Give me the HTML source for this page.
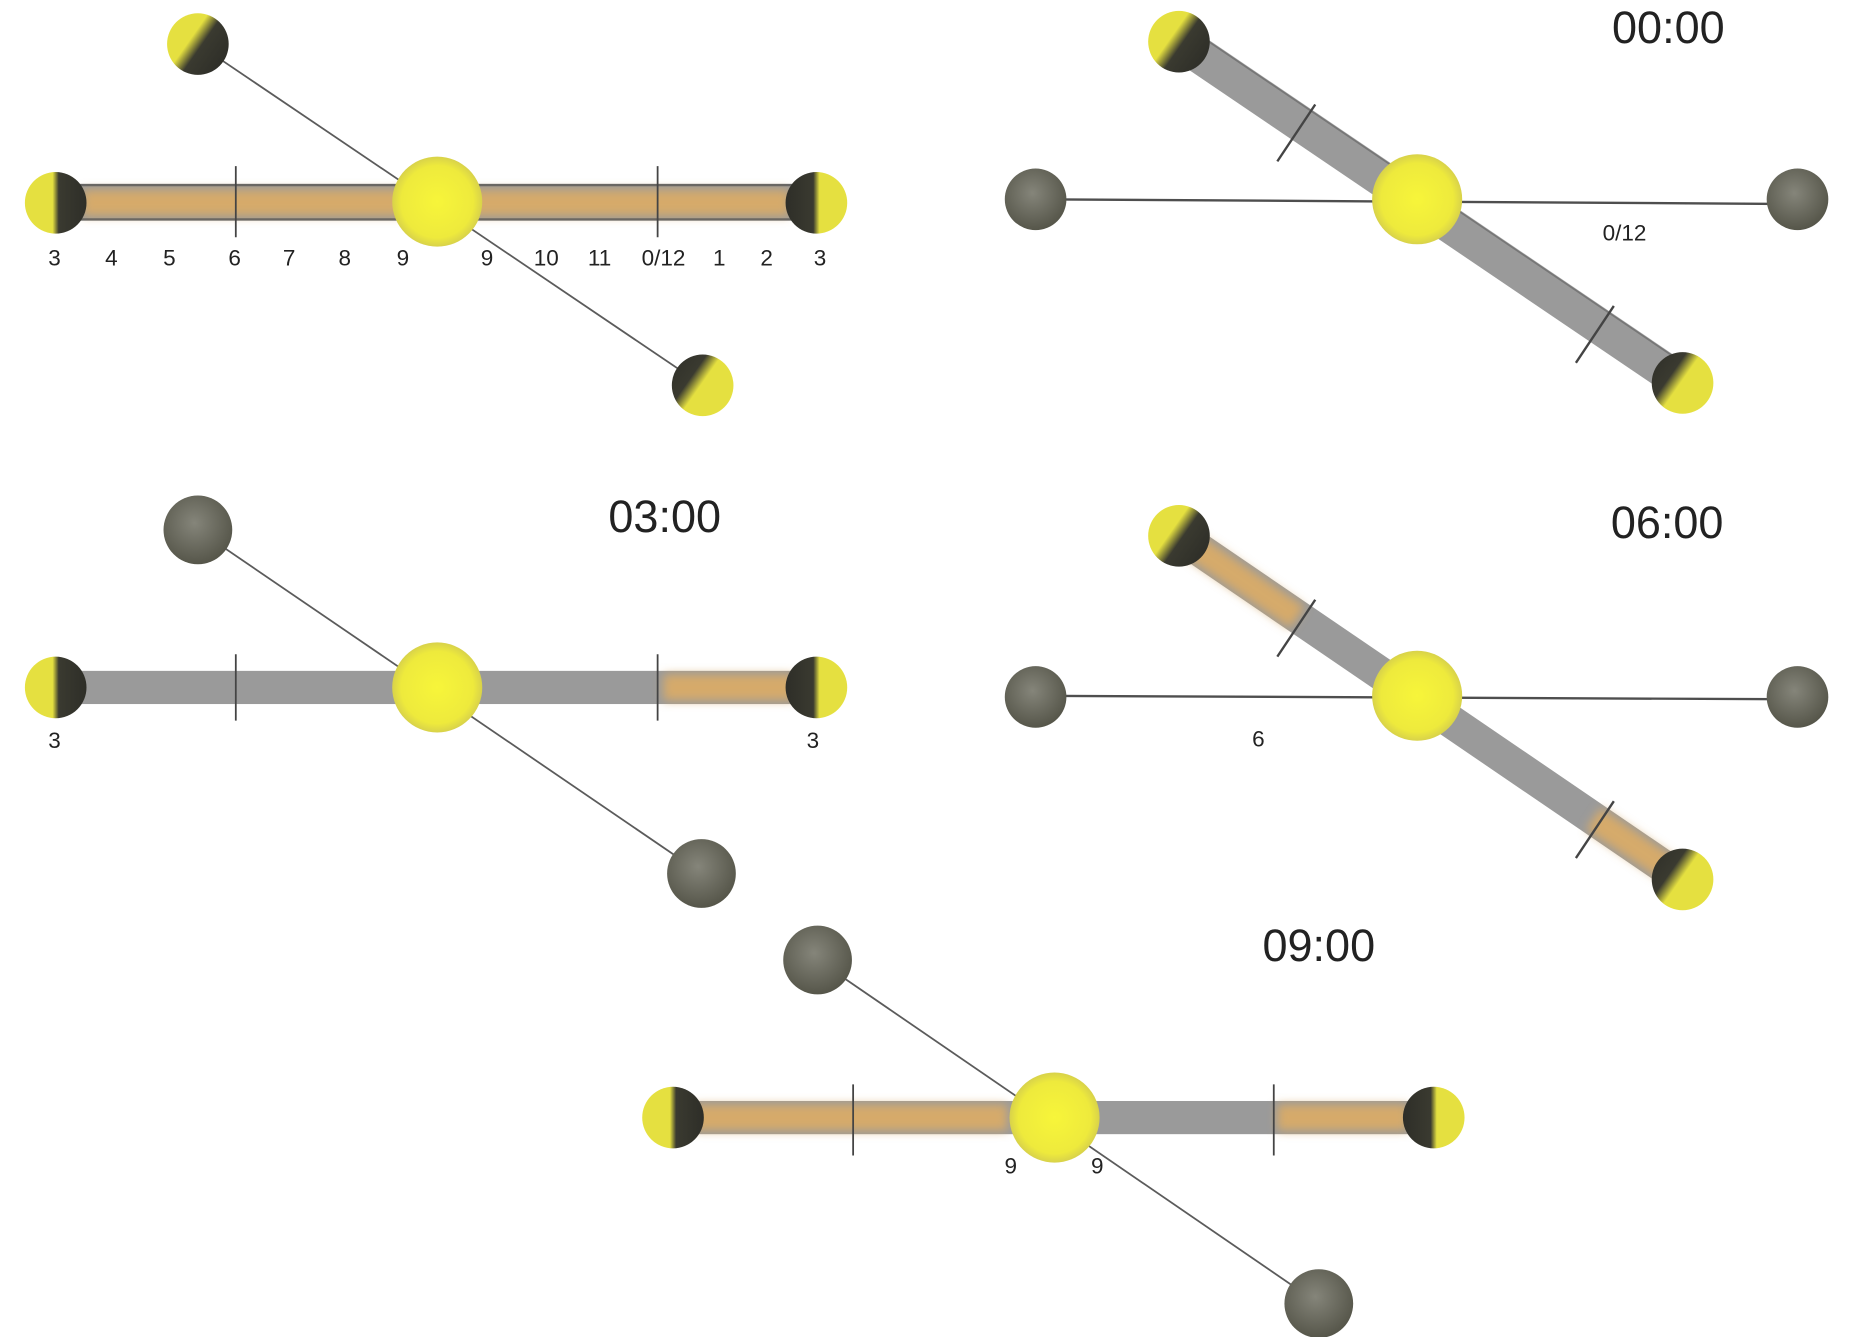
<!DOCTYPE html>
<html><head><meta charset="utf-8"><style>
html,body{margin:0;padding:0;background:#fff;}
svg{display:block}
text{font-family:"Liberation Sans",sans-serif;fill:#222;}
</style></head><body>
<svg width="1852" height="1337" viewBox="0 0 1563 1128" xmlns="http://www.w3.org/2000/svg">
<defs>
<radialGradient id="sun" cx="50%" cy="50%" r="50%"><stop offset="0" stop-color="#f7f53a"/><stop offset="0.8" stop-color="#eeea3c"/><stop offset="1" stop-color="#d8d24a"/></radialGradient>
<radialGradient id="grey" cx="45%" cy="40%" r="60%"><stop offset="0" stop-color="#85857a"/><stop offset="1" stop-color="#56564a"/></radialGradient>
<linearGradient id="pl" x1="0" y1="0" x2="1" y2="0"><stop offset="0.45" stop-color="#e5e040"/><stop offset="0.55" stop-color="#3a3a30"/><stop offset="1" stop-color="#2e2e28"/></linearGradient>
<linearGradient id="pr" x1="0" y1="0" x2="1" y2="0"><stop offset="0" stop-color="#2e2e28"/><stop offset="0.45" stop-color="#3a3a30"/><stop offset="0.55" stop-color="#e5e040"/></linearGradient>
<linearGradient id="mtl" x1="0" y1="0" x2="1" y2="0.7"><stop offset="0.45" stop-color="#e5e040"/><stop offset="0.62" stop-color="#3a3a30"/><stop offset="1" stop-color="#2e2e28"/></linearGradient>
<linearGradient id="mbr" x1="0" y1="0" x2="1" y2="0.7"><stop offset="0" stop-color="#2e2e28"/><stop offset="0.38" stop-color="#3a3a30"/><stop offset="0.55" stop-color="#e5e040"/></linearGradient>
<filter id="blur" x="-20%" y="-50%" width="140%" height="200%"><feGaussianBlur stdDeviation="4"/></filter>
</defs>

<!-- Panel 1 -->
<line x1="167" y1="37" x2="593" y2="325" stroke="#333" stroke-width="1.5" opacity="0.8"/>
<rect x="47" y="155" width="642" height="31" fill="#9a9a9a"/>
<rect x="70" y="160" width="596" height="22" fill="#d6aa6a" filter="url(#blur)"/>
<line x1="47" y1="156" x2="689" y2="156" stroke="#444" stroke-width="2" opacity="0.6"/>
<line x1="47" y1="185" x2="689" y2="185" stroke="#444" stroke-width="2" opacity="0.6"/>
<line x1="199" y1="140" x2="199" y2="200" stroke="#444" stroke-width="1.5"/>
<line x1="555" y1="140" x2="555" y2="200" stroke="#444" stroke-width="1.5"/>
<circle cx="47" cy="171" r="26" fill="url(#pl)"/>
<circle cx="689" cy="171" r="26" fill="url(#pr)"/>
<circle cx="167" cy="37" r="26" fill="url(#mtl)"/>
<circle cx="593" cy="325" r="26" fill="url(#mbr)"/>
<circle cx="369" cy="170" r="38" fill="url(#sun)"/>
<g font-size="19" text-anchor="middle">
<text x="46" y="224">3</text><text x="94" y="224">4</text><text x="143" y="224">5</text><text x="198" y="224">6</text><text x="244" y="224">7</text><text x="291" y="224">8</text><text x="340" y="224">9</text><text x="411" y="224">9</text><text x="461" y="224">10</text><text x="506" y="224">11</text><text x="560" y="224">0/12</text><text x="607" y="224">1</text><text x="647" y="224">2</text><text x="692" y="224">3</text>
</g>

<!-- Panel 2 -->
<text x="1408" y="36" font-size="38" text-anchor="middle">00:00</text>
<line x1="874" y1="168" x2="1517" y2="172" stroke="#222" stroke-width="2" opacity="0.8"/>
<line x1="995" y1="35" x2="1420" y2="323" stroke="#9a9a9a" stroke-width="30"/>
<line x1="1003" y1="23" x2="1428" y2="311" stroke="#444" stroke-width="2" opacity="0.4"/>
<line x1="1110" y1="88" x2="1078" y2="136" stroke="#444" stroke-width="2"/>
<line x1="1362" y1="258" x2="1330" y2="306" stroke="#444" stroke-width="2"/>
<circle cx="874" cy="168" r="26" fill="url(#grey)"/>
<circle cx="1517" cy="168" r="26" fill="url(#grey)"/>
<circle cx="995" cy="35" r="26" fill="url(#mtl)"/>
<circle cx="1420" cy="323" r="26" fill="url(#mbr)"/>
<circle cx="1196" cy="168" r="38" fill="url(#sun)"/>
<text x="1371" y="203" font-size="19" text-anchor="middle">0/12</text>

<!-- Panel 3 -->
<text x="561" y="449" font-size="38" text-anchor="middle">03:00</text>
<line x1="167" y1="447" x2="592" y2="737" stroke="#333" stroke-width="1.5" opacity="0.8"/>
<rect x="47" y="566" width="642" height="28" fill="#9a9a9a"/>
<rect x="560" y="569" width="110" height="22" fill="#d6aa6a" filter="url(#blur)"/>
<line x1="199" y1="552" x2="199" y2="608" stroke="#444" stroke-width="1.5"/>
<line x1="555" y1="552" x2="555" y2="608" stroke="#444" stroke-width="1.5"/>
<circle cx="47" cy="580" r="26" fill="url(#pl)"/>
<circle cx="689" cy="580" r="26" fill="url(#pr)"/>
<circle cx="167" cy="447" r="29" fill="url(#grey)"/>
<circle cx="592" cy="737" r="29" fill="url(#grey)"/>
<circle cx="369" cy="580" r="38" fill="url(#sun)"/>
<text x="46" y="631" font-size="19" text-anchor="middle">3</text>
<text x="686" y="631" font-size="19" text-anchor="middle">3</text>

<!-- Panel 4 -->
<text x="1407" y="454" font-size="38" text-anchor="middle">06:00</text>
<line x1="874" y1="587" x2="1517" y2="590" stroke="#222" stroke-width="2" opacity="0.8"/>
<line x1="995" y1="452" x2="1420" y2="742" stroke="#9a9a9a" stroke-width="28"/>
<line x1="1000" y1="456" x2="1095" y2="521" stroke="#d6aa6a" stroke-width="22" filter="url(#blur)"/>
<line x1="1345" y1="691" x2="1415" y2="738" stroke="#d6aa6a" stroke-width="22" filter="url(#blur)"/>
<line x1="1110" y1="506" x2="1078" y2="554" stroke="#444" stroke-width="2"/>
<line x1="1362" y1="676" x2="1330" y2="724" stroke="#444" stroke-width="2"/>
<circle cx="874" cy="588" r="26" fill="url(#grey)"/>
<circle cx="1517" cy="588" r="26" fill="url(#grey)"/>
<circle cx="995" cy="452" r="26" fill="url(#mtl)"/>
<circle cx="1420" cy="742" r="26" fill="url(#mbr)"/>
<circle cx="1196" cy="587" r="38" fill="url(#sun)"/>
<text x="1062" y="630" font-size="19" text-anchor="middle">6</text>

<!-- Panel 5 -->
<text x="1113" y="811" font-size="38" text-anchor="middle">09:00</text>
<line x1="690" y1="810" x2="1113" y2="1100" stroke="#333" stroke-width="1.5" opacity="0.8"/>
<rect x="568" y="929" width="642" height="28" fill="#9a9a9a"/>
<rect x="585" y="932" width="265" height="22" fill="#d6aa6a" filter="url(#blur)"/>
<rect x="1078" y="932" width="110" height="22" fill="#d6aa6a" filter="url(#blur)"/>
<line x1="720" y1="915" x2="720" y2="975" stroke="#444" stroke-width="1.5"/>
<line x1="1075" y1="915" x2="1075" y2="975" stroke="#444" stroke-width="1.5"/>
<circle cx="568" cy="943" r="26" fill="url(#pl)"/>
<circle cx="1210" cy="943" r="26" fill="url(#pr)"/>
<circle cx="690" cy="810" r="29" fill="url(#grey)"/>
<circle cx="1113" cy="1100" r="29" fill="url(#grey)"/>
<circle cx="890" cy="943" r="38" fill="url(#sun)"/>
<text x="853" y="990" font-size="19" text-anchor="middle">9</text>
<text x="926" y="990" font-size="19" text-anchor="middle">9</text>
</svg>
</body></html>
